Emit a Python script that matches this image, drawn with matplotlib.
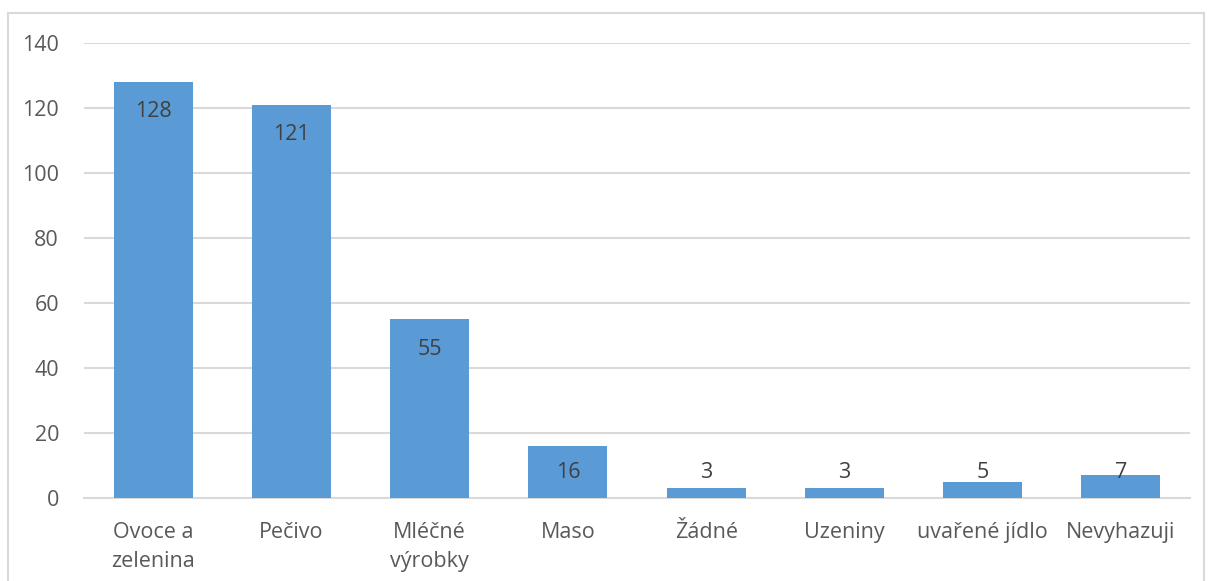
import matplotlib
matplotlib.use("Agg")
import matplotlib.pyplot as plt
from matplotlib.patches import Rectangle

# data
categories = ["Ovoce a\nzelenina", "Pečivo", "Mléčné\nvýrobky", "Maso",
              "Žádné", "Uzeniny", "uvařené jídlo", "Nevyhazuji"]
values = [128, 121, 55, 16, 3, 3, 5, 7]
yticks = [0, 20, 40, 60, 80, 100, 120, 140]

bar_color = "#5b9bd5"
text_color = "#595959"
grid_color = "#d9d9d9"

plt.rcParams["font.family"] = ["Open Sans", "DejaVu Sans"]

fig = plt.figure(figsize=(12.08, 5.81), dpi=100)
ax = fig.add_axes([84 / 1208, 1 - 498 / 581, (1190 - 84) / 1208, (498 - 43) / 581])

# outer chart border, runs off the bottom of the image
fig.patches.append(Rectangle((8 / 1208, -0.1), (1204 - 8) / 1208, 1.1 - 13 / 581,
                             transform=fig.transFigure, fill=False,
                             edgecolor=grid_color, linewidth=1.5))

x = list(range(len(categories)))
ax.bar(x, values, width=0.57, color=bar_color, zorder=3)

# labels sit inside the top of the bar, but never lower than a floor
for xi, v in zip(x, values):
    ly = max(v - 9.2, 7.7)
    ax.text(xi, ly, str(v), ha="center", va="center", fontsize=15.5,
            color="#404040", zorder=4)

ax.set_xlim(-0.5, len(categories) - 0.5)
ax.set_ylim(0, 140)
ax.set_yticks(yticks)
ax.set_xticks(x)
ax.set_xticklabels(categories, linespacing=1.5)
ax.tick_params(axis="y", length=0, pad=18, labelsize=15.5, labelcolor=text_color)
ax.tick_params(axis="x", length=0, pad=17, labelsize=15.5, labelcolor=text_color)
for lab in ax.get_xticklabels():
    lab.set_verticalalignment("top")

ax.grid(axis="y", color=grid_color, linewidth=1.5, zorder=0)
for s in ["top", "right", "left"]:
    ax.spines[s].set_visible(False)
ax.spines["bottom"].set_color(grid_color)
ax.spines["bottom"].set_linewidth(1.5)

fig.savefig("out.png", dpi=100)
